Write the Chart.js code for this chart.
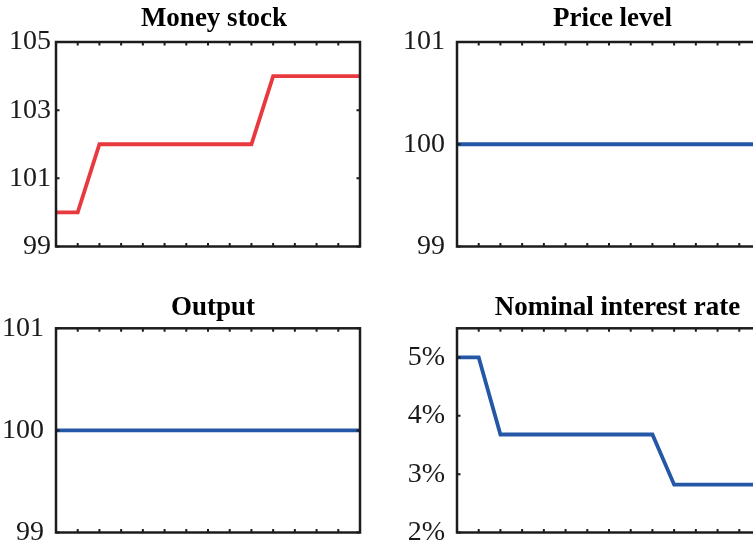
<!DOCTYPE html>
<html>
<head>
<meta charset="utf-8">
<script src="https://cdn.jsdelivr.net/npm/chart.js@4"></script>
<style>
  html, body { margin: 0; padding: 0; background: #fff; }
  body { width: 753px; height: 546px; position: relative; overflow: hidden; }
  canvas { position: absolute; }
</style>
</head>
<body>
<canvas id="money" width="428" height="277" style="left:0;top:0"></canvas>
<canvas id="price" width="425" height="277" style="left:400px;top:0"></canvas>
<canvas id="output" width="426" height="283" style="left:0;top:280px"></canvas>
<canvas id="rate" width="435" height="283" style="left:400px;top:280px"></canvas>
<script>
// Periods along the horizontal axis
const periods = [0, 1, 2, 3, 4, 5, 6, 7, 8, 9, 10, 11, 12, 13, 14];

// Series values
const moneyStock = [100, 100, 102, 102, 102, 102, 102, 102, 102, 102, 104, 104, 104, 104, 104];
const priceLevel = [100, 100, 100, 100, 100, 100, 100, 100, 100, 100, 100, 100, 100, 100, 100];
const output = [100, 100, 100, 100, 100, 100, 100, 100, 100, 100, 100, 100, 100, 100, 100];
const interestRate = [5, 5, 3.68, 3.68, 3.68, 3.68, 3.68, 3.68, 3.68, 3.68, 2.82, 2.82, 2.82, 2.82, 2.82];

// Tick labels on the vertical axes
const moneyTicks = [99, 101, 103, 105];
const levelTicks = [99, 100, 101];
const rateTicks = [2, 3, 4, 5];

const red = '#e8393e';
const blue = '#2458a6';
const axisColor = '#1c1c1c';
const serif = "'Liberation Serif', 'DejaVu Serif', serif";

// Matlab-like box with inward ticks on all four sides
const boxTicks = {
  id: 'boxTicks',
  afterDatasetsDraw(chart) {
    const { ctx, chartArea: a, scales: { x, y } } = chart;
    const len = 3.5;
    ctx.save();
    ctx.strokeStyle = axisColor;
    ctx.lineWidth = 2;
    ctx.beginPath();
    x.ticks.forEach((t) => {
      const px = x.getPixelForValue(t.value);
      ctx.moveTo(px, a.bottom); ctx.lineTo(px, a.bottom - len);
      ctx.moveTo(px, a.top); ctx.lineTo(px, a.top + len);
    });
    y.ticks.forEach((t) => {
      const py = y.getPixelForValue(t.value);
      ctx.moveTo(a.left, py); ctx.lineTo(a.left + len, py);
      ctx.moveTo(a.right, py); ctx.lineTo(a.right - len, py);
    });
    ctx.stroke();
    ctx.lineWidth = 2.5;
    ctx.strokeRect(a.left, a.top, a.right - a.left, a.bottom - a.top);
    ctx.restore();
  }
};

function makePanel(id, opts) {
  new Chart(document.getElementById(id), {
    type: 'line',
    data: {
      datasets: [{
        data: periods.map((p, i) => ({ x: p, y: opts.values[i] })),
        borderColor: opts.color,
        borderWidth: 3.8,
        pointRadius: 0,
        tension: 0,
        fill: false
      }]
    },
    options: {
      responsive: false,
      animation: false,
      layout: { padding: 0 },
      plugins: {
        legend: { display: false },
        tooltip: { enabled: false },
        title: {
          display: true,
          text: opts.title,
          color: '#000',
          font: { family: serif, size: 27, weight: 'bold', lineHeight: 1.2 },
          padding: { top: opts.titleTop, bottom: opts.titleBottom }
        }
      },
      scales: {
        x: {
          type: 'linear',
          min: periods[0],
          max: periods[periods.length - 1],
          grid: { display: false, drawTicks: false },
          border: { display: false },
          ticks: { display: false },
          afterBuildTicks: (s) => { s.ticks = periods.map((v) => ({ value: v })); },
          afterFit: (s) => { s.height = 30.5; }
        },
        y: {
          min: opts.min,
          max: opts.max,
          grid: { display: false, drawTicks: false },
          border: { display: false },
          ticks: {
            color: '#1a1a1a',
            padding: opts.labelPad,
            font: { family: serif, size: 28 },
            callback: opts.fmt || ((v) => v)
          },
          afterBuildTicks: (s) => { s.ticks = opts.ticks.map((v) => ({ value: v })); },
          afterFit: (s) => { s.width = opts.axisWidth; }
        },
        // empty right-hand axis: keeps the title centred a little right of the box
        side: {
          type: 'linear',
          position: 'right',
          grid: { display: false, drawTicks: false },
          border: { display: false },
          ticks: { display: false },
          afterFit: (s) => { s.width = opts.rightPad; }
        }
      }
    },
    plugins: [boxTicks]
  });
}

makePanel('money', {
  title: 'Money stock', values: moneyStock, color: red,
  min: 99, max: 105, ticks: moneyTicks,
  axisWidth: 56, rightPad: 68, labelPad: 5,
  titleTop: 2.5, titleBottom: 7.1
});

makePanel('price', {
  title: 'Price level', values: priceLevel, color: blue,
  min: 99, max: 101, ticks: levelTicks,
  axisWidth: 57, rightPad: 64, labelPad: 12,
  titleTop: 2.5, titleBottom: 7.1
});

makePanel('output', {
  title: 'Output', values: output, color: blue,
  min: 99, max: 101, ticks: levelTicks,
  axisWidth: 56, rightPad: 66, labelPad: 12,
  titleTop: 11.5, titleBottom: 4.4
});

makePanel('rate', {
  title: 'Nominal interest rate', values: interestRate, color: blue,
  min: 2, max: 5.5, ticks: rateTicks, fmt: (v) => v + '%',
  axisWidth: 57, rightPad: 74, labelPad: 12,
  titleTop: 11.5, titleBottom: 4.4
});
</script>
</body>
</html>
